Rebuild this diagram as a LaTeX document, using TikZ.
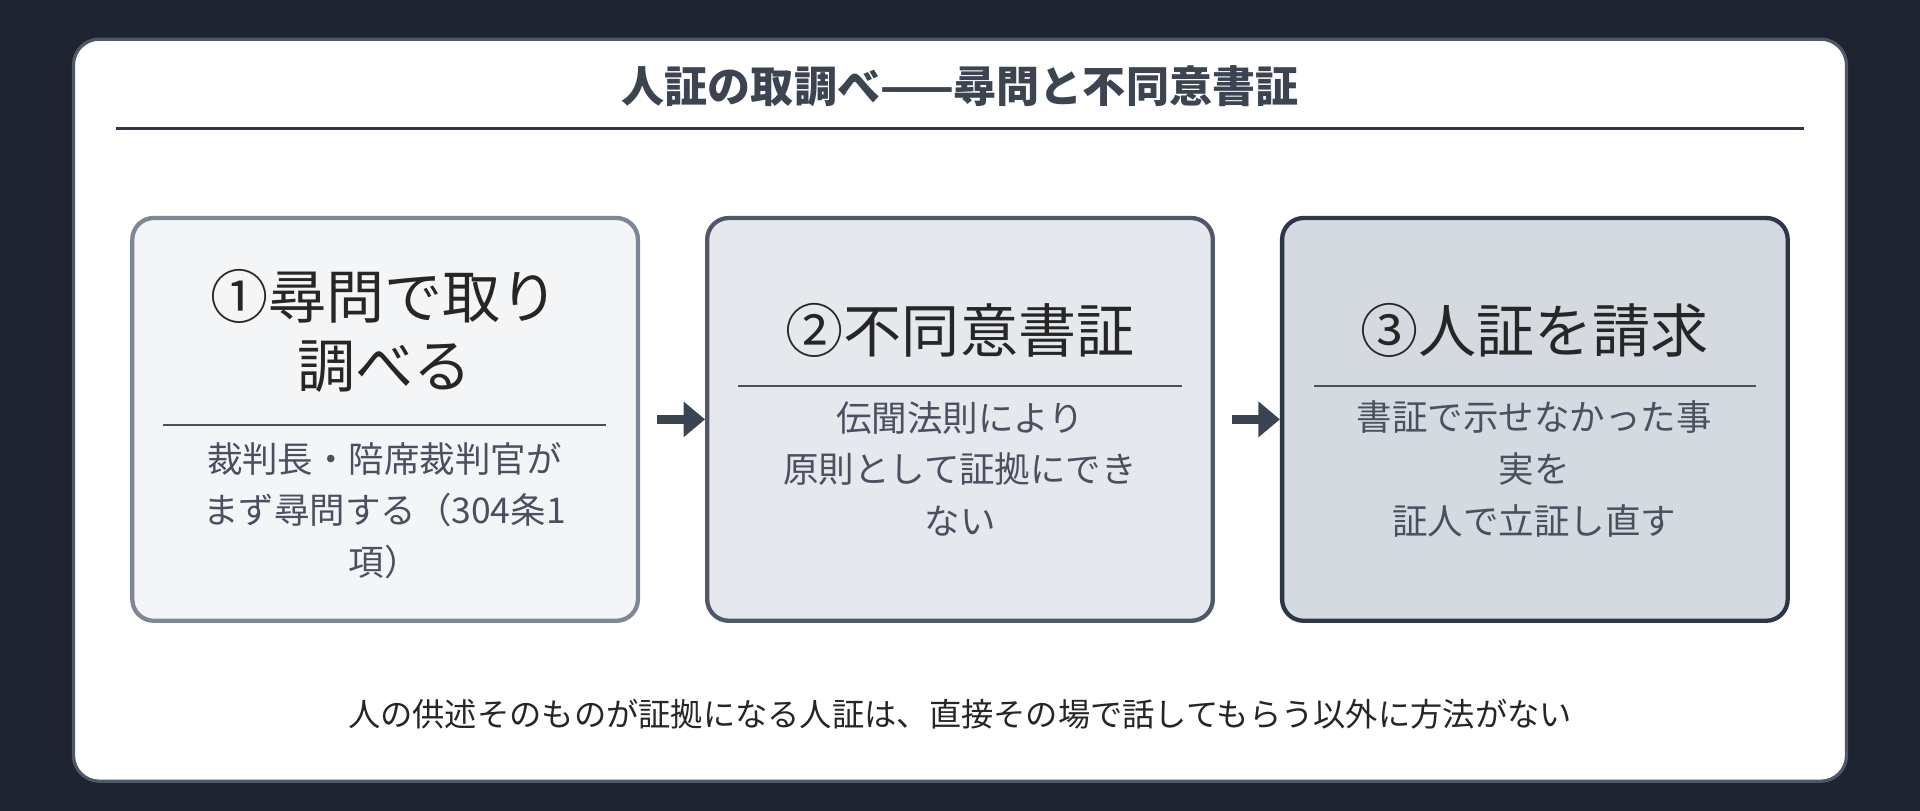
\documentclass[tikz,border=0pt]{standalone}
\usepackage{fontspec}
\setmainfont{Noto Sans CJK JP}
\usepackage{tikz}
\usetikzlibrary{arrows.meta}
\usetikzlibrary{positioning}
\definecolor{bgdark}{HTML}{1E2530}
\definecolor{ink}{HTML}{3D4451}
\definecolor{bodyink}{HTML}{4A5060}
\definecolor{fillA}{HTML}{F4F5F7}
\definecolor{fillB}{HTML}{E5E8EC}
\definecolor{fillC}{HTML}{D5D9E0}
\definecolor{edgeA}{HTML}{7D8796}
\definecolor{edgeB}{HTML}{4F5868}
\definecolor{edgeC}{HTML}{2D3748}
\tikzset{
  stepbox/.style={draw, line width=2pt, rounded corners=10pt, minimum width=8.26cm, minimum height=6.58cm},
  head/.style={font=\fontsize{27}{32}\selectfont, text=black!85, align=center},
  body/.style={font=\fontsize{16.5}{24}\selectfont, text=bodyink, align=center},
  sep/.style={line width=0.8pt, bodyink},
  flow/.style={-{Triangle[length=10pt,width=16pt]}, line width=4pt, ink}
}
\begin{document}
\begin{tikzpicture}[x=0.02cm,y=-0.02cm]
\useasboundingbox (0,0) rectangle (1568,662);
\fill[bgdark] (0,0) rectangle (1568,662);
% card
\draw[fill=white, draw=edgeB, line width=1.5pt, rounded corners=12pt] (60,32) rectangle (1508,638);
\node[font=\bfseries\fontsize{20}{24}\selectfont, text=ink] (title) at (784,70) {人証の取調べ——尋問と不同意書証};
\coordinate (ruleL) at (95,105);
\coordinate (ruleR) at (1473,105);
\draw[line width=1pt, edgeC] (ruleL) -- (ruleR);
% steps
\node[stepbox, fill=fillA, draw=edgeA] (s1) at (314.5,342.5) {};
\node[stepbox, fill=fillB, draw=edgeB] (s2) at (784,342.5) {};
\node[stepbox, fill=fillC, draw=edgeC] (s3) at (1253.5,342.5) {};
\node[head] (h1) at (314,270) {①尋問で取り\\調べる};
\node[head] (h2) at (784,270) {②不同意書証};
\node[head] (h3) at (1253,270) {③人証を請求};
\draw[sep] (133,347) -- (495,347);
\draw[sep] (603,315) -- (965,315);
\draw[sep] (1073,315) -- (1434,315);
\node[body] (b1) at (314,417) {裁判長・陪席裁判官が\\まず尋問する（304条1\\項）};
\node[body] (b2) at (784,383) {伝聞法則により\\原則として証拠にでき\\ない};
\node[body] (b3) at (1253,383) {書証で示せなかった事\\実を\\証人で立証し直す};
% arrows
\draw[flow] (s1.east) ++(8pt,0) coordinate (a1) -- (s2.west);
\draw[flow] (s2.east) ++(8pt,0) coordinate (a2) -- (s3.west);
\node[font=\fontsize{15}{18}\selectfont, text=black!85] (foot) at (784,583) {人の供述そのものが証拠になる人証は、直接その場で話してもらう以外に方法がない};
\end{tikzpicture}
\end{document}
